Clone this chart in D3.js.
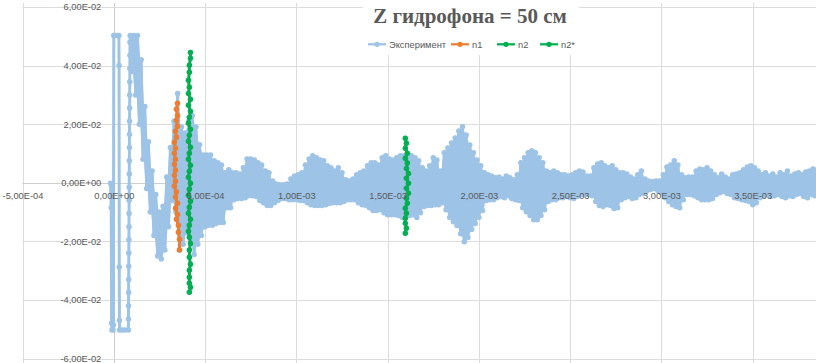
<!DOCTYPE html>
<html>
<head>
<meta charset="utf-8">
<script src="https://cdn.jsdelivr.net/npm/d3@7"></script>
<style>
  html, body { margin: 0; padding: 0; background: #ffffff; }
  svg { display: block; }
</style>
</head>
<body>
<svg id="chart" width="816" height="363"></svg>
<script>
// ---- data -------------------------------------------------------------
const chartTitle = "Z гидрофона = 50 см";
const seriesNames = ["Эксперимент", "n1", "n2", "n2*"];

const xTickValues = [-5e-4, 0, 5e-4, 1e-3, 1.5e-3, 2e-3, 2.5e-3, 3e-3, 3.5e-3];
const xTickLabels = ["-5,00E-04", "0,00E+00", "5,00E-04", "1,00E-03", "1,50E-03",
                     "2,00E-03", "2,50E-03", "3,00E-03", "3,50E-03"];
const yTickValues = [0.06, 0.04, 0.02, 0, -0.02, -0.04, -0.06];
const yTickLabels = ["6,00E-02", "4,00E-02", "2,00E-02", "0,00E+00", "-2,00E-02", "-4,00E-02", "-6,00E-02"];

// Experiment: leading transient (clipped at ±0.0503)
const expHeadT = [-1.8e-5, -1.4e-5, -1.2e-5, -1.0e-5, -4e-6, -2e-6, 0, 1e-5, 2e-5, 2.8e-5,
                  2.9e-5, 3.0e-5, 3.1e-5, 3.2e-5, 4.5e-5, 6e-5, 8.0e-5,
                  8.05e-5, 8.09e-5, 8.13e-5, 8.17e-5, 8.21e-5, 8.25e-5, 8.29e-5, 8.33e-5, 8.37e-5, 8.41e-5,
                  8.45e-5, 8.49e-5, 8.53e-5, 8.57e-5, 8.61e-5, 8.65e-5, 8.69e-5, 8.73e-5, 8.77e-5, 8.81e-5,
                  8.85e-5, 8.89e-5];
const expHeadV = [-0.0002, -0.0085, -0.048, -0.0503, -0.0503, -0.0486, 0.0503, 0.0503, 0.0503, 0.0503,
                  0.040, -0.0288, -0.047, -0.0503, -0.0503, -0.0503, -0.0503,
                  -0.0465, -0.042, -0.0375, -0.033, -0.0285, -0.024, -0.0195, -0.015, -0.0105, -0.006,
                  -0.0015, 0.003, 0.0075, 0.012, 0.0165, 0.021, 0.0255, 0.030, 0.0345, 0.039,
                  0.0435, 0.048];

// Experiment: oscillation crests and troughs, one every 1e-5 s from 9e-5 s
const expSwingStart = 9e-5;
const expSwingStep = 1e-5;
const expSwing = [
  0.0503, 0.0380, 0.0503, 0.0300, 0.0503, 0.0200, 0.0420, 0.0080, 0.0260, -0.0020,
  0.0140, -0.0100, 0.0040, -0.0180, -0.0040, -0.0250, -0.0100, -0.0260, -0.0080, -0.0230,
  0.0020, -0.0150, 0.0120, -0.0060, 0.0210, -0.0100, 0.0305, -0.0230, 0.0190, -0.0210,
  0.0170, -0.0170, 0.0210, -0.0190, 0.0230, -0.0245, 0.0190, -0.0210, 0.0130, -0.0180,
  0.0095, -0.0150, 0.0095, -0.0145, 0.0095, -0.0145,
  0.0075, -0.0139, 0.0068, -0.0136, 0.0061, -0.0136, 0.0034, -0.0085, 0.0044, -0.0085,
  0.0034, -0.0058, 0.0034, -0.0054, 0.0030, -0.0054, 0.0051, -0.0051,
  0.0081, -0.0044, 0.0081, -0.0044, 0.0078, -0.0047, 0.0068, -0.0061, 0.0061, -0.0068,
  0.0040, -0.0078, 0.0034, -0.0078, 0.0006, -0.0068, -0.0004, -0.0061, -0.0007, -0.0054,
  -0.0007, -0.0054, -0.0004, -0.0058, 0.0013, -0.0058, 0.0023, -0.0058, 0.0027, -0.0061,
  0.0034, -0.0061, 0.0061, -0.0068, 0.0081, -0.0075, 0.0092, -0.0078, 0.0085, -0.0078,
  0.0078, -0.0078, 0.0075, -0.0075, 0.0058, -0.0071, 0.0051, -0.0068, 0.0040, -0.0068,
  0.0051, -0.0068, 0.0034, -0.0064, 0.0010, -0.0058, 0.0006, -0.0058, 0.0013, -0.0058,
  0.0027, -0.0068, 0.0034, -0.0075, 0.0040, -0.0078, 0.0058, -0.0085, 0.0068, -0.0095,
  0.0068, -0.0095, 0.0061, -0.0092, 0.0085, -0.0102, 0.0092, -0.0109, 0.0081, -0.0109,
  0.0078, -0.0109, 0.0085, -0.0112, 0.0092, -0.0119, 0.0092, -0.0112, 0.0095, -0.0112,
  0.0092, -0.0109, 0.0085, -0.0119, 0.0075, -0.0102, 0.0051, -0.0081, 0.0040, -0.0078,
  0.0058, -0.0078, 0.0085, -0.0075, 0.0078, -0.0075, 0.0040, -0.0068, 0.0102, -0.0092,
  0.0119, -0.0119, 0.0136, -0.0133, 0.0153, -0.0146, 0.0177, -0.0174, 0.0191, -0.0201,
  0.0163, -0.0187, 0.0129, -0.0160, 0.0102, -0.0139, 0.0078, -0.0119, 0.0058, -0.0095,
  0.0034, -0.0061, 0.0027, -0.0058, 0.0023, -0.0058, 0.0017, -0.0051, 0.0020, -0.0047,
  0.0013, -0.0051, 0.0023, -0.0044, 0.0017, -0.0054, 0.0010, -0.0058, 0.0027, -0.0061,
  0.0068, -0.0085, 0.0085, -0.0099, 0.0102, -0.0112, 0.0109, -0.0126, 0.0102, -0.0126,
  0.0085, -0.0112, 0.0068, -0.0092, 0.0040, -0.0064, 0.0034, -0.0058, 0.0040, -0.0058,
  0.0034, -0.0051, 0.0027, -0.0051, 0.0027, -0.0047, 0.0023, -0.0051, 0.0027, -0.0054,
  0.0034, -0.0047, 0.0040, -0.0040, 0.0037, -0.0040, 0.0023, -0.0040, 0.0023, -0.0044,
  0.0051, -0.0064, 0.0064, -0.0078, 0.0068, -0.0081, 0.0058, -0.0075, 0.0051, -0.0078,
  0.0058, -0.0088, 0.0044, -0.0085, 0.0034, -0.0058, 0.0034, -0.0051, 0.0030, -0.0047,
  0.0020, -0.0054, 0.0013, -0.0051, 0.0027, -0.0040, 0.0040, -0.0037, 0.0013, -0.0027,
  0.0006, -0.0023, 0.0003, -0.0020, 0.0006, -0.0027, 0.0006, -0.0034, 0.0027, -0.0051,
  0.0054, -0.0064, 0.0061, -0.0075, 0.0075, -0.0081, 0.0061, -0.0085, 0.0027, -0.0058,
  0.0017, -0.0040, 0.0020, -0.0040, 0.0020, -0.0044, 0.0040, -0.0051, 0.0047, -0.0058,
  0.0044, -0.0058, 0.0051, -0.0058, 0.0040, -0.0054, 0.0027, -0.0040, 0.0017, -0.0034,
  0.0030, -0.0030, 0.0020, -0.0037, 0.0013, -0.0040, 0.0027, -0.0051, 0.0030, -0.0054,
  0.0034, -0.0058, 0.0044, -0.0061, 0.0054, -0.0064, 0.0058, -0.0075, 0.0051, -0.0068,
  0.0040, -0.0051, 0.0027, -0.0044, 0.0034, -0.0040, 0.0023, -0.0047, 0.0030, -0.0044,
  0.0020, -0.0040, 0.0034, -0.0047, 0.0027, -0.0051, 0.0040, -0.0044, 0.0023, -0.0047,
  0.0030, -0.0040, 0.0034, -0.0037, 0.0027, -0.0047, 0.0037, -0.0051, 0.0040, -0.0040,
  0.0047, -0.0044, 0.0044, -0.0047, 0.0034, -0.0044
];

// n1
const n1T = [3.49e-4, 3.43e-4, 3.49e-4, 3.43e-4, 3.49e-4, 3.38e-4, 3.43e-4, 3.32e-4, 3.38e-4,
             3.32e-4, 3.38e-4, 3.32e-4, 3.38e-4, 3.32e-4, 3.38e-4, 3.32e-4, 3.43e-4, 3.38e-4,
             3.49e-4, 3.38e-4, 3.49e-4, 3.43e-4, 3.54e-4, 3.54e-4, 3.60e-4, 3.60e-4];
const n1V = [0.0271, 0.0251, 0.0230, 0.0213, 0.0193, 0.0176, 0.0155, 0.0138, 0.0118,
             0.0101, 0.0080, 0.0063, 0.0043, 0.0026, 0.0005, -0.0012, -0.0032, -0.0049,
             -0.0070, -0.0087, -0.0108, -0.0125, -0.0145, -0.0169, -0.0193, -0.0230];

// n2
const n2T = [4.20e-4, 4.20e-4, 4.14e-4, 4.14e-4, 4.09e-4, 4.14e-4, 4.09e-4, 4.20e-4, 4.09e-4, 4.20e-4,
             4.14e-4, 4.09e-4, 4.20e-4, 4.14e-4, 4.09e-4, 4.20e-4, 4.14e-4, 4.09e-4, 4.20e-4, 4.14e-4,
             4.09e-4, 4.20e-4, 4.14e-4, 4.09e-4, 4.20e-4, 4.14e-4, 4.09e-4, 4.20e-4, 4.14e-4, 4.09e-4,
             4.14e-4, 4.20e-4, 4.14e-4, 4.14e-4, 4.20e-4, 4.14e-4, 4.14e-4, 4.14e-4, 4.20e-4, 4.14e-4];
const n2V = [0.0445, 0.0425, 0.0401, 0.0377, 0.0350, 0.0326, 0.0305, 0.0285, 0.0265, 0.0244,
             0.0224, 0.0203, 0.0183, 0.0162, 0.0142, 0.0121, 0.0101, 0.0080, 0.0060, 0.0039,
             0.0019, -0.0002, -0.0022, -0.0043, -0.0063, -0.0084, -0.0104, -0.0125, -0.0145, -0.0166,
             -0.0186, -0.0207, -0.0230, -0.0254, -0.0278, -0.0299, -0.0323, -0.0343, -0.0357, -0.0374];

// n2*
const n2sT = [1.597e-3, 1.603e-3, 1.597e-3, 1.608e-3, 1.597e-3, 1.608e-3, 1.603e-3, 1.614e-3, 1.603e-3, 1.614e-3,
              1.603e-3, 1.614e-3, 1.603e-3, 1.608e-3, 1.597e-3, 1.603e-3, 1.597e-3, 1.597e-3, 1.603e-3, 1.597e-3];
const n2sV = [0.0152, 0.0135, 0.0118, 0.0101, 0.0084, 0.0067, 0.0049, 0.0032, 0.0015, -0.0002,
              -0.0019, -0.0036, -0.0053, -0.0070, -0.0087, -0.0104, -0.0121, -0.0138, -0.0155, -0.0172];

const colors = ["#9DC3E6", "#ED7D31", "#00B050", "#00B050"];

// ---- assemble series ---------------------------------------------------
const zip = (ts, vs) => ts.map((t, i) => ({ t, v: vs[i] }));
const swingPoints = expSwing.map((v, i) => ({ t: expSwingStart + i * expSwingStep, v }));
const expPoints = zip(expHeadT, expHeadV).concat(swingPoints);
const series = [
  { name: seriesNames[0], color: colors[0], points: expPoints },
  { name: seriesNames[1], color: colors[1], points: zip(n1T, n1V) },
  { name: seriesNames[2], color: colors[2], points: zip(n2T, n2V) },
  { name: seriesNames[3], color: colors[3], points: zip(n2sT, n2sV) }
];
// span swept by each swing of the oscillation (neighbouring crest/trough)
const swingSpans = d3.pairs(swingPoints).map(([a, b]) => ({
  t: (a.t + b.t) / 2, lo: Math.min(a.v, b.v), hi: Math.max(a.v, b.v)
}));

// ---- scales -----------------------------------------------------------
const W = 816, H = 363;
const x = d3.scaleLinear().domain([-5e-4, 4e-3]).range([22.5, 844.0]);
const y = d3.scaleLinear().domain([-0.06, 0.06]).range([358.5, 7.0]);

const svg = d3.select("#chart");
const grey = "#595959";
const gridColor = "#DCDCDC";
const tickFont = "'Liberation Sans Narrow', 'Arial Narrow', 'Liberation Sans', sans-serif";

// ---- gridlines ---------------------------------------------------------
const grid = svg.append("g");
grid.selectAll("line.v").data(xTickValues).join("line")
  .attr("x1", d => Math.round(x(d)) + 0.5).attr("x2", d => Math.round(x(d)) + 0.5)
  .attr("y1", 3).attr("y2", H)
  .attr("stroke", gridColor).attr("stroke-width", 1);
grid.selectAll("line.h").data(yTickValues).join("line")
  .attr("x1", x(-5e-4)).attr("x2", W)
  .attr("y1", d => Math.round(y(d)) + 0.5).attr("y2", d => Math.round(y(d)) + 0.5)
  .attr("stroke", gridColor).attr("stroke-width", 1);

// axis lines through the origin
svg.append("line")
  .attr("x1", x(-5e-4)).attr("x2", W)
  .attr("y1", Math.round(y(0)) + 0.5).attr("y2", Math.round(y(0)) + 0.5)
  .attr("stroke", "#CFCFCF").attr("stroke-width", 1);
svg.append("line")
  .attr("x1", Math.round(x(0)) + 0.5).attr("x2", Math.round(x(0)) + 0.5)
  .attr("y1", 3).attr("y2", H)
  .attr("stroke", "#CFCFCF").attr("stroke-width", 1);

// title / legend background
svg.append("rect").attr("x", 363).attr("y", 0).attr("width", 216).attr("height", 55).attr("fill", "#ffffff");

// ---- series -------------------------------------------------------------
const line = d3.line().x(d => x(d.t)).y(d => y(d.v));
const plot = svg.append("g");

// dense oscillation body of the experiment trace
plot.append("path").datum(swingSpans)
  .attr("d", d3.area().x(d => x(d.t)).y0(d => y(d.lo)).y1(d => y(d.hi)))
  .attr("fill", colors[0]);

series.forEach(s => {
  const g = plot.append("g");
  g.append("path").datum(s.points)
    .attr("d", line)
    .attr("fill", "none")
    .attr("stroke", s.color)
    .attr("stroke-width", 3)
    .attr("stroke-linejoin", "round");
  g.selectAll("circle").data(s.points).join("circle")
    .attr("cx", d => x(d.t)).attr("cy", d => y(d.v))
    .attr("r", 2.75)
    .attr("fill", s.color);
});

// ---- axes (labels only) ----------------------------------------------------
const xAxis = d3.axisBottom(x)
  .tickValues(xTickValues)
  .tickFormat((d, i) => xTickLabels[i])
  .tickSize(0).tickPadding(10);
const gx = svg.append("g").attr("transform", `translate(0,${y(0)})`).call(xAxis);
gx.select(".domain").remove();
gx.selectAll("text").attr("fill", grey).style("font-family", tickFont).style("font-size", "9.3px");

const yAxis = d3.axisLeft(y)
  .tickValues(yTickValues)
  .tickFormat((d, i) => yTickLabels[i])
  .tickSize(0).tickPadding(12.5);
const gy = svg.append("g").attr("transform", `translate(${x(0)},0)`).call(yAxis);
gy.select(".domain").remove();
gy.selectAll("text").attr("fill", grey).style("font-family", tickFont).style("font-size", "9.3px");

// ---- title ---------------------------------------------------------------
svg.append("text")
  .attr("x", 470).attr("y", 23)
  .attr("text-anchor", "middle")
  .attr("fill", grey)
  .style("font-family", "'Liberation Serif', 'Times New Roman', serif")
  .style("font-weight", "bold")
  .style("font-size", "21px")
  .text(chartTitle);

// ---- legend --------------------------------------------------------------
const legendX = [368, 451, 497, 540];
const legendY = 44.3;
const legend = svg.append("g");
series.forEach((s, i) => {
  const g = legend.append("g").attr("transform", `translate(${legendX[i]},${legendY})`);
  g.append("line").attr("x1", 0).attr("x2", 18).attr("y1", 0).attr("y2", 0)
    .attr("stroke", s.color).attr("stroke-width", 2.25);
  g.append("circle").attr("cx", 9).attr("cy", 0).attr("r", 2.6).attr("fill", s.color);
  g.append("text").attr("x", 21).attr("y", 0).attr("dy", "0.35em")
    .attr("fill", grey)
    .style("font-family", tickFont)
    .style("font-size", "9.3px")
    .text(s.name);
});
</script>
</body>
</html>
